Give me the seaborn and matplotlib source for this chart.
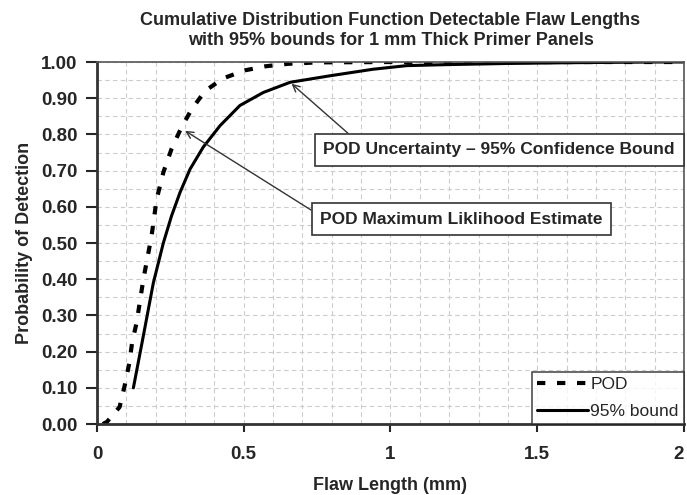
import numpy as np
import pandas as pd
import matplotlib
matplotlib.use("Agg")
import matplotlib.pyplot as plt
import seaborn as sns

# POD (maximum likelihood estimate) curve
pod_x = [0.02, 0.034, 0.077, 0.094, 0.11, 0.12, 0.135, 0.158, 0.186, 0.203, 0.226,
         0.254, 0.288, 0.323, 0.368, 0.43, 0.504, 0.572, 0.65, 0.75, 1.0, 1.5, 2.0]
pod_y = [0.0, 0.006, 0.047, 0.105, 0.168, 0.227, 0.28, 0.40, 0.52, 0.62, 0.695,
         0.76, 0.82, 0.87, 0.92, 0.955, 0.977, 0.988, 0.995, 0.999, 1.0, 1.0, 1.0]

# 95% confidence bound curve
bound_x = [0.124, 0.158, 0.192, 0.226, 0.254, 0.283, 0.317, 0.362, 0.419, 0.487,
           0.567, 0.658, 0.794, 0.94, 1.055, 1.2, 1.4, 1.6, 1.9, 2.0]
bound_y = [0.10, 0.244, 0.39, 0.50, 0.575, 0.64, 0.704, 0.765, 0.824, 0.88,
           0.916, 0.944, 0.962, 0.98, 0.99, 0.993, 0.996, 0.998, 1.0, 1.0]

x_ticks = [0, 0.5, 1, 1.5, 2]
x_labels = ['0', '0.5', '1', '1.5', '2']
y_ticks = [0.0, 0.1, 0.2, 0.3, 0.4, 0.5, 0.6, 0.7, 0.8, 0.9, 1.0]

sns.set_style("white")
plt.rcParams['font.family'] = ['Liberation Sans', 'DejaVu Sans']

fig = plt.figure(figsize=(6.87, 4.95), dpi=100)
ax = fig.add_axes([0.1412, 0.1434, 0.8544, 0.7313])

pod_df = pd.DataFrame({'x': pod_x, 'y': pod_y})
bound_df = pd.DataFrame({'x': bound_x, 'y': bound_y})

sns.lineplot(data=pod_df, x='x', y='y', ax=ax, color='black', lw=3,
             linestyle=(0, (2, 2.8)), label='POD', sort=False)
sns.lineplot(data=bound_df, x='x', y='y', ax=ax, color='black', lw=2.2,
             label='95% bound', sort=False)

ax.set_xlim(0, 2)
ax.set_ylim(0, 1)
ax.set_xticks(x_ticks)
ax.set_xticklabels(x_labels)
ax.set_yticks(y_ticks)
ax.set_yticklabels([f'{v:.2f}' for v in y_ticks])
ax.set_xticks(np.arange(0, 2.01, 0.1), minor=True)
ax.set_yticks(np.arange(0, 1.001, 0.05), minor=True)
ax.grid(which='both', color='#cccccc', linestyle=(0, (4, 3)), lw=0.8)
ax.set_axisbelow(True)

ax.tick_params(axis='x', which='major', direction='out', length=6, width=1.5,
               pad=10, labelsize=13.5, bottom=True)
ax.tick_params(axis='y', which='major', direction='out', length=8, width=1.5,
               pad=6, labelsize=13.5, left=True)
ax.tick_params(which='minor', length=0)
for lab in ax.get_xticklabels() + ax.get_yticklabels():
    lab.set_fontweight('bold')
# last x label sits at the figure edge; right-align it so it stays visible
ax.get_xticklabels()[-1].set_horizontalalignment('right')

for side in ['left', 'bottom']:
    ax.spines[side].set_linewidth(2)
    ax.spines[side].set_color('#333333')
for side in ['top', 'right']:
    ax.spines[side].set_linewidth(1.2)
    ax.spines[side].set_color('#555555')

ax.set_xlabel('Flaw Length (mm)', fontsize=13, fontweight='bold', labelpad=10)
ax.set_ylabel('Probability of Detection', fontsize=13, fontweight='bold', labelpad=6)
ax.set_title('Cumulative Distribution Function Detectable Flaw Lengths\n'
             'with 95% bounds for 1 mm Thick Primer Panels',
             fontsize=13, fontweight='bold', pad=12, linespacing=1.25)

box = dict(boxstyle='square,pad=0.5', fc='white', ec='#333333', lw=1.2)
ax.annotate('POD Uncertainty \u2013 95% Confidence Bound', xy=(0.663, 0.94),
            xytext=(1.37, 0.757), ha='center', va='center', fontsize=12.5,
            fontweight='bold', bbox=box,
            arrowprops=dict(arrowstyle='->', color='#333333', lw=1,
                            shrinkA=0, shrinkB=0, relpos=(0.1, 1.0)))
ax.annotate('POD Maximum Liklihood Estimate', xy=(0.30, 0.81),
            xytext=(1.242, 0.566), ha='center', va='center', fontsize=12.5,
            fontweight='bold', bbox=box,
            arrowprops=dict(arrowstyle='->', color='#333333', lw=1,
                            shrinkA=0, shrinkB=0, relpos=(0.0, 0.72)))

leg = ax.legend(loc='lower right', fontsize=12.5, frameon=True, fancybox=False,
                borderaxespad=0, handlelength=2.9, handletextpad=0.15,
                borderpad=0.3, labelspacing=0.65)
leg.get_frame().set_edgecolor('#222222')
leg.get_frame().set_linewidth(1.2)

fig.savefig('out.png', dpi=100)
